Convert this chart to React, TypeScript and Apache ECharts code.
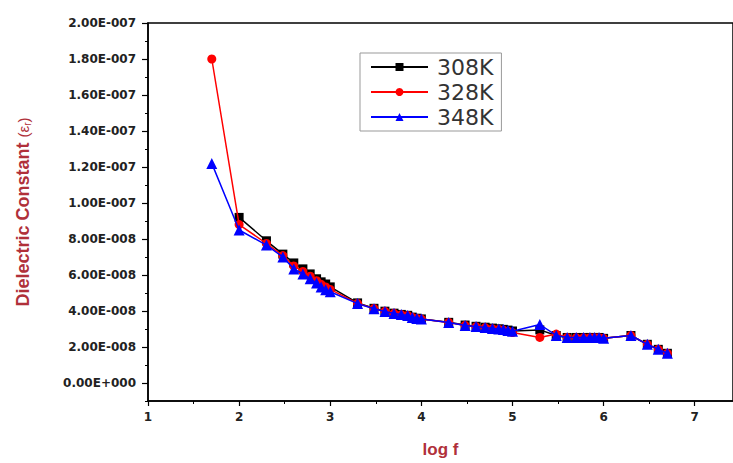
import React, { useEffect, useRef } from "react";
import * as echarts from "echarts";

const seriesNames = ["308K", "328K", "348K"];
const seriesColors = ["#000000", "#ff0000", "#0000ff"];
const seriesSymbols = ["rect", "circle", "triangle"];

const logF308 = [2, 2.3, 2.48, 2.6, 2.7, 2.78, 2.85, 2.9, 2.95, 3, 3.3, 3.48, 3.6, 3.7, 3.78, 3.85, 3.9, 3.95, 4, 4.3, 4.48, 4.6, 4.7, 4.78, 4.85, 4.9, 4.95, 5, 5.3, 5.48, 5.6, 5.7, 5.78, 5.85, 5.9, 5.95, 6, 6.3, 6.48, 6.6, 6.7];
const eps308 = [9.2e-8, 7.9e-8, 7.16e-8, 6.67e-8, 6.34e-8, 6.06e-8, 5.79e-8, 5.62e-8, 5.5e-8, 5.34e-8, 4.45e-8, 4.15e-8, 3.99e-8, 3.88e-8, 3.81e-8, 3.76e-8, 3.66e-8, 3.6e-8, 3.56e-8, 3.37e-8, 3.22e-8, 3.15e-8, 3.1e-8, 3.05e-8, 3.01e-8, 2.98e-8, 2.94e-8, 2.89e-8, 2.95e-8, 2.64e-8, 2.53e-8, 2.53e-8, 2.53e-8, 2.53e-8, 2.53e-8, 2.53e-8, 2.48e-8, 2.64e-8, 2.15e-8, 1.87e-8, 1.65e-8];

const logF328 = [1.7, 2, 2.3, 2.48, 2.6, 2.7, 2.78, 2.85, 2.9, 2.95, 3, 3.3, 3.48, 3.6, 3.7, 3.78, 3.85, 3.9, 3.95, 4, 4.3, 4.48, 4.6, 4.7, 4.78, 4.85, 4.9, 4.95, 5, 5.3, 5.48, 5.6, 5.7, 5.78, 5.85, 5.9, 5.95, 6, 6.3, 6.48, 6.6, 6.7];
const eps328 = [1.8e-7, 8.8e-8, 7.75e-8, 7.08e-8, 6.5e-8, 6.2e-8, 5.93e-8, 5.68e-8, 5.48e-8, 5.34e-8, 5.2e-8, 4.42e-8, 4.14e-8, 3.98e-8, 3.87e-8, 3.8e-8, 3.75e-8, 3.65e-8, 3.59e-8, 3.55e-8, 3.36e-8, 3.2e-8, 3.13e-8, 3.08e-8, 3.02e-8, 2.98e-8, 2.94e-8, 2.88e-8, 2.8e-8, 2.53e-8, 2.72e-8, 2.53e-8, 2.52e-8, 2.52e-8, 2.52e-8, 2.52e-8, 2.52e-8, 2.48e-8, 2.64e-8, 2.15e-8, 1.87e-8, 1.65e-8];

const logF348 = [1.7, 2, 2.3, 2.48, 2.6, 2.7, 2.78, 2.85, 2.9, 2.95, 3, 3.3, 3.48, 3.6, 3.7, 3.78, 3.85, 3.9, 3.95, 4, 4.3, 4.48, 4.6, 4.7, 4.78, 4.85, 4.9, 4.95, 5, 5.3, 5.48, 5.6, 5.7, 5.78, 5.85, 5.9, 5.95, 6, 6.3, 6.48, 6.6, 6.7];
const eps348 = [1.22e-7, 8.5e-8, 7.66e-8, 7.0e-8, 6.34e-8, 6.06e-8, 5.79e-8, 5.56e-8, 5.34e-8, 5.18e-8, 5.07e-8, 4.41e-8, 4.13e-8, 3.97e-8, 3.86e-8, 3.8e-8, 3.75e-8, 3.64e-8, 3.58e-8, 3.55e-8, 3.36e-8, 3.2e-8, 3.14e-8, 3.09e-8, 3.03e-8, 3.0e-8, 2.97e-8, 2.92e-8, 2.87e-8, 3.25e-8, 2.64e-8, 2.53e-8, 2.53e-8, 2.53e-8, 2.53e-8, 2.53e-8, 2.53e-8, 2.48e-8, 2.64e-8, 2.15e-8, 1.87e-8, 1.65e-8];

const xTicks = [1, 2, 3, 4, 5, 6, 7];
const yMajorTicks = [0, 2e-8, 4e-8, 6e-8, 8e-8, 1e-7, 1.2e-7, 1.4e-7, 1.6e-7, 1.8e-7, 2e-7];
const yMinorTicks = [-1e-8, 1e-8, 3e-8, 5e-8, 7e-8, 9e-8, 1.1e-7, 1.3e-7, 1.5e-7, 1.7e-7, 1.9e-7];

function fmtSci(v: number): string {
  const s = v.toExponential(2);
  const [m, e] = s.split("e");
  const sign = e[0] === "-" ? "-" : "+";
  const digits = e.replace(/[+-]/, "").padStart(3, "0");
  return `${m}E${sign}${digits}`;
}

export default function App() {
  const ref = useRef<HTMLDivElement>(null);
  useEffect(() => {
    if (!ref.current) return;
    const chart = echarts.init(ref.current, null, { renderer: "svg" });
    const xs = [logF308, logF328, logF348];
    const ys = [eps308, eps328, eps348];
    const titleColor = "#b0303a";
    chart.setOption({
      animation: false,
      backgroundColor: "#ffffff",
      grid: {
        left: 148,
        top: 23,
        right: -3,
        bottom: 57,
        containLabel: false,
        show: true,
        borderColor: "#000",
        borderWidth: 1.5,
        backgroundColor: "transparent",
      },
      legend: {
        data: seriesNames,
        orient: "vertical",
        left: 360,
        top: 53,
        width: 141,
        padding: [3, 8, 3, 10],
        itemWidth: 57,
        itemHeight: 10,
        itemGap: 3,
        borderColor: "#999",
        borderWidth: 1,
        textStyle: {
          fontFamily: "DejaVu Sans",
          fontSize: 22,
          color: "#333",
          lineHeight: 22,
          padding: [0, 0, 0, 4],
        },
      },
      xAxis: {
        type: "value",
        min: 1,
        max: 7.42,
        interval: 1,
        axisLine: { show: true, onZero: false, lineStyle: { color: "#000", width: 1.5 } },
        axisTick: { show: true, inside: false, length: 5, customValues: xTicks, lineStyle: { color: "#000", width: 1.2 } },
        minorTick: { show: true, splitNumber: 2, length: 3, lineStyle: { color: "#000", width: 1 } },
        splitLine: { show: false },
        axisLabel: {
          customValues: xTicks,
          margin: 10,
          fontFamily: "DejaVu Sans",
          fontWeight: "bold",
          fontSize: 12,
          color: "#222",
        },
        name: "log f",
        nameLocation: "middle",
        nameGap: 40,
        nameTextStyle: {
          fontFamily: "Liberation Sans",
          fontWeight: "bold",
          fontSize: 17,
          color: titleColor,
        },
      },
      yAxis: [
        {
          type: "value",
          min: -1e-8,
          max: 2e-7,
          axisLine: { show: true, onZero: false, lineStyle: { color: "#000", width: 1.5 } },
          axisTick: {
            show: true,
            inside: false,
            length: 6,
            customValues: yMajorTicks,
            lineStyle: { color: "#000", width: 1.2 },
          },
          axisLabel: {
            customValues: yMajorTicks,
            formatter: (v: number) => fmtSci(v),
            margin: 12,
            fontFamily: "DejaVu Sans",
            fontWeight: "bold",
            fontSize: 12,
            color: "#222",
          },
          splitLine: { show: false },
          name: "{t|Dielectric Constant }{s|(ε}{sub|r}{s|)}",
          nameLocation: "middle",
          nameGap: 116,
          nameRotate: 90,
          nameTextStyle: {
            rich: {
              t: { fontFamily: "Liberation Sans", fontWeight: "bold", fontSize: 18, color: titleColor },
              s: { fontFamily: "Liberation Sans", fontSize: 15, color: titleColor },
              sub: { fontFamily: "Liberation Sans", fontSize: 10, color: titleColor, verticalAlign: "bottom", padding: [6, 0, 0, 0] },
            },
          },
        },
        {
          type: "value",
          min: -1e-8,
          max: 2e-7,
          position: "left",
          axisLine: { show: false, onZero: false },
          axisTick: {
            show: true,
            inside: false,
            length: 3,
            customValues: yMinorTicks,
            lineStyle: { color: "#000", width: 1 },
          },
          axisLabel: { show: false },
          splitLine: { show: false },
        },
      ],
      series: seriesNames.map((name, i) => ({
        name,
        type: "line",
        xAxisIndex: 0,
        yAxisIndex: 0,
        data: xs[i].map((x, j) => [x, ys[i][j]]),
        symbol: seriesSymbols[i],
        symbolSize: i === 2 ? 11 : 9,
        showSymbol: true,
        lineStyle: { color: seriesColors[i], width: 1.5 },
        itemStyle: { color: seriesColors[i] },
        z: 2 + i,
      })),
    });
    return () => chart.dispose();
  }, []);
  return <div ref={ref} style={{ width: 733, height: 463, position: "absolute", left: 0, top: 0 }} />;
}
